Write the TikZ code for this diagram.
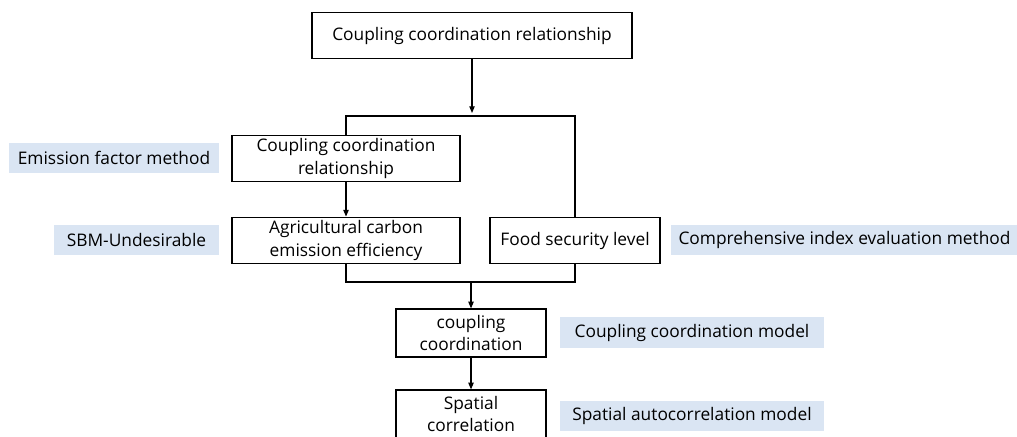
\documentclass[tikz,border=0pt]{standalone}
\usepackage{fontspec}
\setmainfont{Open Sans}
\definecolor{methodblue}{RGB}{218,229,243}
\usetikzlibrary{arrows.meta,positioning,calc}
\tikzset{
    stepbox/.style={draw, line width=0.9pt, fill=white, align=center,
        inner sep=0pt, font=\fontsize{13}{17}\selectfont},
    methodbox/.style={fill=methodblue, inner sep=0pt, align=center,
        font=\fontsize{13}{17}\selectfont},
    link/.style={line width=0.8pt},
    flow/.style={link, -{Triangle[length=5pt,width=4pt]}}
}
\begin{document}
\begin{tikzpicture}[x=0.75pt,y=-0.75pt]
    \clip (0,0) rectangle (1017,436);
    \fill[white] (0,0) rectangle (1017,436);

    % main chain
    \node[stepbox, minimum width=240pt, minimum height=35pt] (top) at (472,35.5) {Coupling coordination relationship};
    \node[stepbox, minimum width=171pt, minimum height=35pt] (rel) at (346,158.5) {Coupling coordination\\relationship};
    \node[stepbox, minimum width=171pt, minimum height=35pt] (ace) at (346,240.5) {Agricultural carbon\\emission efficiency};
    \node[stepbox, minimum width=127.5pt, minimum height=35pt] (food) at (575,240.5) {Food security level};
    \node[stepbox, minimum width=112.5pt, minimum height=36pt] (cc) at (471,333) {coupling\\coordination};
    \node[stepbox, minimum width=112.5pt, minimum height=36pt, font=\fontsize{13}{16}\selectfont] (sc) at (471,414) {Spatial\\correlation};

    % methods
    \node[methodbox, minimum width=157.5pt, minimum height=22.5pt] (emf) at (114,158) {Emission factor method};
    \node[methodbox, minimum width=124pt, minimum height=22.5pt] (sbm) at (136.5,240) {SBM-Undesirable};
    \node[methodbox, minimum width=260pt, minimum height=22.5pt] (cie) at (844.5,240) {Comprehensive index evaluation method};
    \node[methodbox, minimum width=198pt, minimum height=23pt] (ccm) at (692,332.5) {Coupling coordination model};
    \node[methodbox, minimum width=198pt, minimum height=22.5pt] (sam) at (692,416) {Spatial autocorrelation model};

    % connectors
    \coordinate (split) at (472,116);
    \coordinate (merge) at (471,282);
    \draw[flow] (top.south) -- ($(split)+(0,-3)$);
    \draw[link] (rel.north) |- (split) -| (food.north);
    \draw[flow] (rel.south) -- (ace.north);
    \draw[link] (ace.south) |- (merge) -| (food.south);
    \draw[flow] (merge) -- (cc.north);
    \draw[flow] (cc.south) -- (sc.north);
\end{tikzpicture}
\end{document}
